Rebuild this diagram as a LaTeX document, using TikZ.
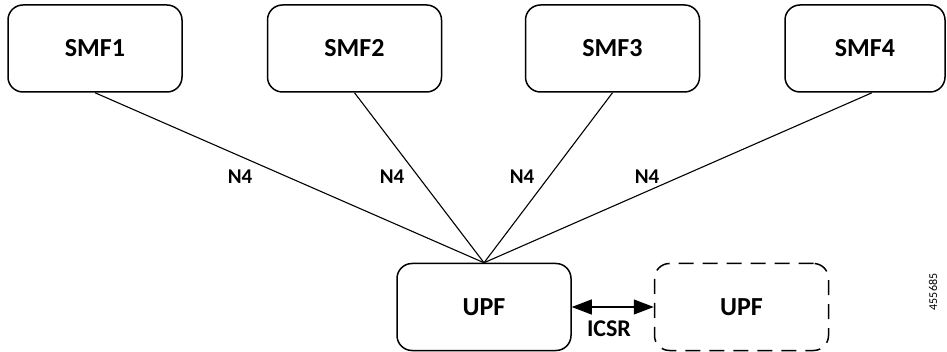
\documentclass[tikz,border=0pt]{standalone}
\usepackage{fontspec}
\setmainfont{Carlito}
\usetikzlibrary{arrows.meta}
\begin{document}
\begin{tikzpicture}[x=1pt,y=-1pt,
    nf/.style={draw,line width=1.5pt,rounded corners=15pt,minimum width=174pt,
      minimum height=87pt,font=\fontsize{26}{30}\selectfont\bfseries},
    lbl/.style={font=\fontsize{21}{24}\selectfont\bfseries}]
      \useasboundingbox (0,0) rectangle (947,352);
      \draw
        (95,48.5) node[nf] (smf1){SMF1}
        (354.5,48.5) node[nf] (smf2){SMF2}
        (612.5,48.5) node[nf] (smf3){SMF3}
        (865,48.5) node[nf,minimum width=160pt] (smf4){SMF4}
        (484,307) node[nf] (upf){UPF}
        (741.5,307) node[nf,dashed,dash pattern=on 15pt off 9pt] (upf2){UPF};
      \begin{scope}[line width=1.1pt]
        \draw (smf1.south) to (upf.north);
        \draw (smf2.south) to (upf.north);
        \draw (smf3.south) to (upf.north);
        \draw ([xshift=7pt]smf4.south) to (upf.north);
      \end{scope}
      \draw
        (240,177) node[lbl] (n1){N4}
        (392,177) node[lbl] (n2){N4}
        (522,177) node[lbl] (n3){N4}
        (647,177) node[lbl] (n4){N4}
        (609,329) node[lbl,font=\fontsize{24}{28}\selectfont\bfseries] (icsr){ICSR};
      \draw[line width=1.2pt,{Triangle[length=20pt,width=15pt]}-{Triangle[length=20pt,width=15pt]}]
        (upf.east) -- (upf2.west);
      \node[rotate=90,font=\fontsize{12}{14}\selectfont] (fig) at (933,292) {455685};
    \end{tikzpicture}
\end{document}
